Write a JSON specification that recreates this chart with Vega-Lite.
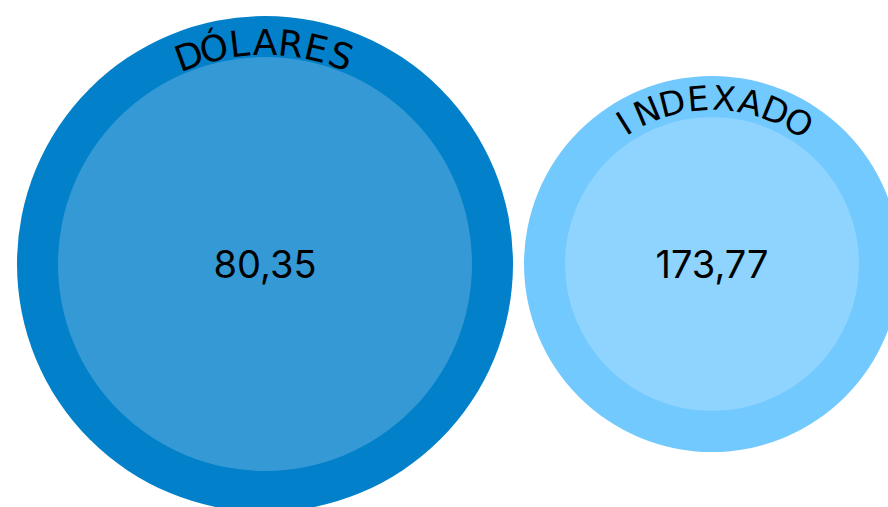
{
  "$schema": "https://vega.github.io/schema/vega-lite/v6.json",
  "width": 888,
  "height": 486,
  "autosize": "none",
  "padding": {"top": 21, "left": 0, "right": 0, "bottom": 0},
  "background": "#ffffff",
  "config": {"view": {"stroke": null}},
  "datasets": {
    "main": [
      {"grp": "DÓLARES", "value": 80.35, "label": "80,35"},
      {"grp": "INDEXADO", "value": 173.77, "label": "173,77"}
    ],
    "letters": [
      {"grp": "DÓLARES", "ch": "D", "pos": 0},
      {"grp": "DÓLARES", "ch": "Ó", "pos": 1},
      {"grp": "DÓLARES", "ch": "L", "pos": 2},
      {"grp": "DÓLARES", "ch": "A", "pos": 3},
      {"grp": "DÓLARES", "ch": "R", "pos": 4},
      {"grp": "DÓLARES", "ch": "E", "pos": 5},
      {"grp": "DÓLARES", "ch": "S", "pos": 6},
      {"grp": "INDEXADO", "ch": "I", "pos": 0},
      {"grp": "INDEXADO", "ch": "N", "pos": 1},
      {"grp": "INDEXADO", "ch": "D", "pos": 2},
      {"grp": "INDEXADO", "ch": "E", "pos": 3},
      {"grp": "INDEXADO", "ch": "X", "pos": 4},
      {"grp": "INDEXADO", "ch": "A", "pos": 5},
      {"grp": "INDEXADO", "ch": "D", "pos": 6},
      {"grp": "INDEXADO", "ch": "O", "pos": 7}
    ]
  },
  "encoding": {
    "x": {"field": "grp", "type": "nominal", "axis": null,
          "scale": {"type": "point", "domain": ["DÓLARES", "INDEXADO"], "range": [265, 712], "padding": 0}}
  },
  "layer": [
    {
      "data": {"name": "main"},
      "mark": {"type": "circle", "opacity": 1},
      "encoding": {
        "size": {"field": "value", "type": "quantitative", "legend": null,
                 "scale": {"domain": [80.35, 173.77], "range": [246016, 141376], "zero": false}},
        "color": {"field": "grp", "type": "nominal", "legend": null,
                  "scale": {"domain": ["DÓLARES", "INDEXADO"], "range": ["#0280C9", "#72C9FE"]}}
      }
    },
    {
      "data": {"name": "main"},
      "mark": {"type": "circle", "opacity": 1},
      "encoding": {
        "size": {"field": "value", "type": "quantitative", "legend": null,
                 "scale": {"domain": [80.35, 173.77], "range": [171396, 86436], "zero": false}},
        "color": {"field": "grp", "type": "nominal", "legend": null,
                  "scale": {"domain": ["DÓLARES", "INDEXADO"], "range": ["#3599D5", "#8ED4FE"]}}
      }
    },
    {
      "data": {"name": "main"},
      "mark": {"type": "text", "font": "Inter", "fontSize": 38, "color": "#000000", "align": "center", "baseline": "middle", "dy": 3},
      "encoding": {
        "text": {"field": "label", "type": "nominal"}
      }
    },
    {
      "data": {"name": "letters"},
      "transform": [{"filter": "datum.grp === 'DÓLARES'"}],
      "mark": {"type": "text", "font": "DejaVu Sans", "fontSize": 36, "color": "#000000", "align": "center", "baseline": "middle"},
      "encoding": {
        "text": {"field": "ch", "type": "nominal"},
        "theta": {"field": "pos", "type": "quantitative", "stack": null,
                  "scale": {"domain": [0, 6], "range": [-0.35, 0.35], "zero": false}},
        "radius": {"value": 220},
        "angle": {"field": "pos", "type": "quantitative",
                  "scale": {"domain": [0, 6], "range": [-20, 20], "zero": false}}
      }
    },
    {
      "data": {"name": "letters"},
      "transform": [{"filter": "datum.grp === 'INDEXADO'"}],
      "mark": {"type": "text", "font": "DejaVu Sans", "fontSize": 34, "color": "#000000", "align": "center", "baseline": "middle"},
      "encoding": {
        "text": {"field": "ch", "type": "nominal"},
        "theta": {"field": "pos", "type": "quantitative", "stack": null,
                  "scale": {"domain": [0, 7], "range": [-0.56, 0.55], "zero": false}},
        "radius": {"value": 164},
        "angle": {"field": "pos", "type": "quantitative",
                  "scale": {"domain": [0, 7], "range": [-32, 31.5], "zero": false}}
      }
    }
  ],
  "resolve": {"scale": {"size": "independent", "color": "independent", "theta": "independent", "angle": "independent"}}
}
